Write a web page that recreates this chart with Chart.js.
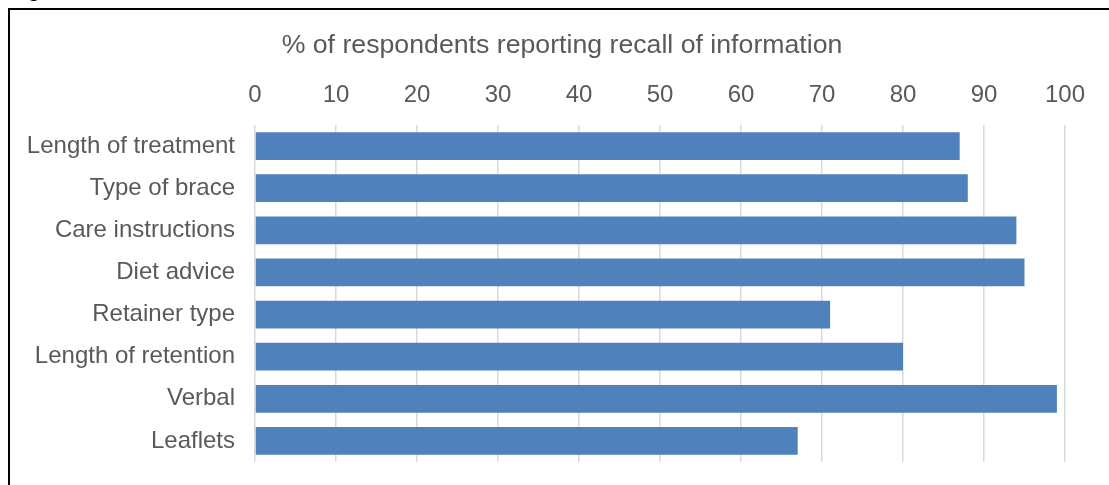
<!DOCTYPE html>
<html>
<head>
<meta charset="utf-8">
<script src="https://cdn.jsdelivr.net/npm/chart.js@4"></script>
<style>
  body { margin: 0; background: #fff; overflow: hidden; width: 1109px; height: 485px; position: relative; }
  #caption { position: absolute; left: 10px; top: -21px; line-height: 20px; font: bold 20px "Liberation Sans", Arial, sans-serif; color: #000; }
  #frame { position: absolute; left: 8px; top: 8px; width: 1200px; height: 600px; border: 2px solid #000; }
  #grafico { position: absolute; left: 10px; top: 10px; }
</style>
</head>
<body>
<div id="caption">Figure</div>
<div id="frame"></div>
<canvas id="grafico" width="1099" height="475"></canvas>
<script>
// dados do gráfico
const categorias = ["Length of treatment", "Type of brace", "Care instructions", "Diet advice",
                    "Retainer type", "Length of retention", "Verbal", "Leaflets"];
const percentuais = [87, 88, 94, 95, 71, 80, 99, 67];
const tituloEixo = "% of respondents reporting recall of information";

const fonte = "'Liberation Sans', Arial, sans-serif";
const cinza = "#595959";

// área do gráfico: x de 245 a 1055, y de 115 a 452 (coordenadas do canvas)
const tituloTopo = 20;
const tituloAltura = 26.7 * 1.2;

// desloca o título um pouco para a direita
const ajusteTitulo = {
    id: "ajusteTitulo",
    afterLayout(chart) {
        if (chart.titleBlock) chart.titleBlock.left = 49;
    }
};

new Chart(document.getElementById("grafico").getContext("2d"), {
    type: "bar",
    data: {
        labels: categorias,
        datasets: [{
            data: percentuais,
            backgroundColor: "#4f81bd",
            borderWidth: 0,
            barPercentage: 0.66,
            categoryPercentage: 1
        }]
    },
    options: {
        indexAxis: "y",
        responsive: false,
        animation: false,
        layout: { padding: { left: 0, right: 44, top: 0, bottom: 23 } },
        plugins: {
            legend: { display: false },
            tooltip: { enabled: false },
            title: {
                display: true,
                text: tituloEixo,
                color: cinza,
                font: { family: fonte, size: 26.7, weight: "normal" },
                padding: { top: tituloTopo, bottom: 0 }
            }
        },
        scales: {
            x: {
                position: "top",
                min: 0,
                max: 100,
                ticks: { stepSize: 10, color: cinza, padding: 15.6, font: { family: fonte, size: 24 } },
                grid: { color: "#d9d9d9", lineWidth: 1.5, drawTicks: false },
                border: { display: false },
                afterFit: function (scale) { scale.height = 115 - tituloTopo - tituloAltura; }
            },
            y: {
                ticks: { color: cinza, padding: 20, font: { family: fonte, size: 24 } },
                grid: { display: false, drawTicks: false },
                border: { display: false },
                afterFit: function (scale) {
                    scale.width = 245;
                    scale.paddingTop = 0;
                    scale.paddingBottom = 0;
                }
            }
        }
    },
    plugins: [ajusteTitulo]
});
</script>
</body>
</html>
